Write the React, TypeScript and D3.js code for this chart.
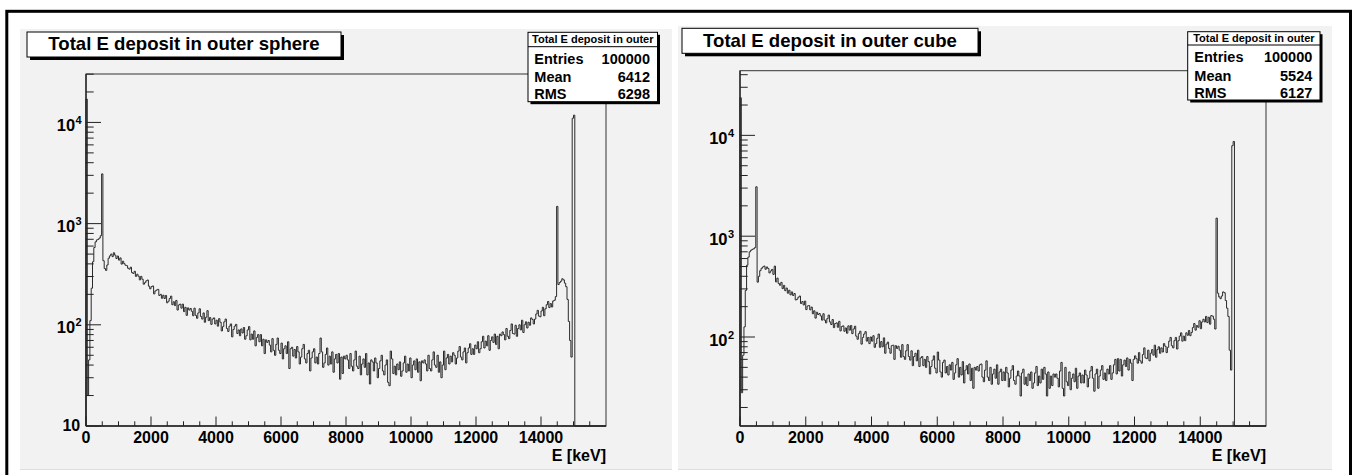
import React from 'react';
import * as d3 from 'd3';

// ---------------- DATA ----------------
const BIN_WIDTH_KEV = 40;
const X_DOMAIN: [number, number] = [0, 16000];
const X_MAJOR_TICKS = [0, 2000, 4000, 6000, 8000, 10000, 12000, 14000];
const X_MINOR_STEP = 500;
const X_AXIS_TITLE = 'E [keV]';
const STATS_HEADER = 'Total E deposit in outer';
const STAT_LABELS = ['Entries', 'Mean', 'RMS'];

const SPHERE_TITLE = 'Total E deposit in outer sphere';
const SPHERE_STATS = ['100000', '6412', '6298'];
const SPHERE_Y_RANGE: [number, number] = [10, 30100];

const CUBE_TITLE = 'Total E deposit in outer cube';
const CUBE_STATS = ['100000', '5524', '6127'];
const CUBE_Y_RANGE: [number, number] = [13.1, 43800];

// counts per 40 keV bin, 0 .. 16000 keV
const SPHERE_COUNTS = [
  17000, 20, 45, 110, 230, 420, 580, 660, 690, 700, 720, 760, 3100, 430, 360, 345, 390, 455, 480, 500,
  472, 515, 488, 452, 478, 436, 458, 398, 425, 402, 388, 384, 362, 355, 371, 328, 322, 338, 301, 316,
  302, 278, 301, 282, 252, 261, 272, 277, 241, 227, 238, 242, 202, 216, 221, 224, 195, 200, 183, 196,
  182, 195, 165, 171, 182, 192, 158, 169, 155, 174, 140, 157, 160, 146, 160, 135, 149, 124, 147, 140,
  145, 136, 123, 146, 124, 116, 131, 144, 121, 114, 131, 106, 119, 138, 110, 118, 101, 114, 117, 102,
  111, 97, 115, 106, 87, 96, 107, 114, 92, 86, 97, 102, 76, 90, 97, 101, 82, 89, 78, 91,
  83, 94, 72, 78, 89, 96, 71, 81, 72, 87, 62, 75, 80, 68, 80, 62, 72, 52, 71, 67,
  70, 63, 54, 73, 56, 50, 64, 74, 56, 52, 66, 46, 58, 62, 52, 68, 37, 58, 60, 49,
  57, 47, 61, 54, 41, 48, 58, 64, 46, 42, 52, 56, 35, 47, 54, 58, 42, 48, 41, 52,
  74, 54, 38, 42, 51, 59, 40, 49, 41, 54, 34, 46, 51, 42, 52, 29, 48, 33, 49, 46,
  50, 45, 37, 52, 39, 35, 45, 55, 39, 37, 49, 32, 41, 46, 38, 52, 32, 42, 26, 45,
  43, 35, 47, 42, 30, 37, 44, 50, 35, 32, 40, 45, 27, 25, 55, 46, 33, 39, 32, 41,
  36, 43, 31, 35, 42, 49, 34, 41, 35, 47, 30, 40, 44, 36, 46, 34, 43, 28, 44, 42,
  45, 41, 35, 50, 37, 35, 45, 54, 40, 38, 50, 34, 43, 30, 40, 55, 36, 47, 51, 41,
  49, 43, 53, 50, 41, 47, 55, 61, 48, 45, 54, 59, 42, 53, 59, 65, 51, 58, 51, 63,
  58, 68, 53, 58, 68, 77, 59, 69, 62, 78, 56, 70, 76, 67, 81, 64, 77, 58, 81, 78,
  85, 80, 71, 92, 77, 73, 88, 102, 82, 81, 99, 77, 92, 100, 89, 111, 84, 100, 107, 93,
  106, 99, 117, 113, 102, 114, 128, 139, 122, 120, 137, 149, 123, 144, 158, 170, 148, 162, 150, 172,
  175, 190, 1480, 250, 262, 270, 285, 278, 258, 238, 178, 108, 70, 48, 11000, 11800, 0, 0, 0, 0,
  0, 0, 0, 0, 0, 0, 0, 0, 0, 0, 0, 0, 0, 0, 0, 0, 0, 0, 0, 0,
];

const CUBE_COUNTS = [
  23600, 28, 66, 126, 290, 515, 620, 700, 725, 740, 750, 770, 3090, 350, 400, 455, 480, 495, 505, 470,
  495, 478, 432, 452, 468, 418, 505, 352, 384, 340, 326, 348, 302, 325, 288, 306, 272, 291, 262, 280,
  258, 270, 233, 237, 248, 255, 215, 225, 208, 227, 187, 203, 205, 186, 198, 170, 182, 154, 176, 167,
  171, 162, 147, 170, 147, 138, 152, 165, 141, 133, 149, 124, 136, 138, 125, 143, 115, 127, 129, 114,
  123, 109, 129, 117, 130, 108, 120, 128, 102, 95, 108, 114, 85, 99, 107, 113, 91, 99, 86, 100,
  91, 103, 79, 86, 97, 107, 79, 90, 80, 98, 69, 85, 89, 77, 69, 82, 83, 60, 82, 77,
  81, 74, 63, 84, 64, 60, 73, 84, 64, 59, 73, 52, 64, 69, 58, 74, 51, 62, 64, 52,
  60, 50, 64, 57, 43, 51, 59, 65, 49, 44, 71, 59, 45, 40, 56, 59, 44, 51, 42, 53,
  47, 56, 38, 44, 53, 61, 40, 50, 42, 57, 35, 47, 52, 43, 54, 37, 49, 31, 50, 47,
  51, 46, 53, 54, 40, 36, 47, 58, 40, 37, 50, 34, 43, 48, 39, 53, 34, 45, 48, 37,
  45, 37, 50, 44, 32, 39, 47, 52, 37, 34, 41, 46, 41, 26, 44, 48, 34, 40, 33, 43,
  37, 45, 31, 35, 44, 51, 33, 41, 35, 48, 38, 50, 43, 26, 45, 31, 41, 33, 43, 40,
  43, 39, 32, 46, 56, 31, 26, 50, 36, 33, 45, 30, 39, 43, 36, 49, 31, 41, 44, 35,
  42, 35, 47, 42, 32, 39, 46, 51, 39, 29, 43, 48, 31, 41, 47, 52, 38, 44, 37, 48,
  43, 52, 38, 44, 53, 60, 43, 61, 46, 60, 41, 53, 59, 51, 62, 47, 60, 55, 37, 60,
  65, 61, 55, 70, 58, 55, 67, 78, 62, 61, 74, 58, 69, 75, 66, 83, 63, 75, 80, 69,
  78, 71, 86, 81, 70, 79, 91, 99, 82, 78, 92, 99, 76, 92, 102, 110, 91, 102, 92, 110,
  104, 116, 103, 111, 124, 136, 117, 130, 125, 145, 121, 141, 150, 141, 160, 139, 157, 134, 163, 161,
  150, 120, 1510, 272, 250, 240, 255, 280, 275, 230, 193, 160, 74, 47, 7900, 8700, 0, 0, 0, 0,
  0, 0, 0, 0, 0, 0, 0, 0, 0, 0, 0, 0, 0, 0, 0, 0, 0, 0, 0, 0,
];

// ---------------- LAYOUT ----------------
const FONT = "'Liberation Sans', Arial, Helvetica, sans-serif";

const LEFT_LAYOUT = {
  pad: { x0: 20, x1: 672, y0: 29, y1: 470 },
  frame: { x0: 86, x1: 606, y0: 74, y1: 426 },
  title: { x0: 27, x1: 341, y0: 32, y1: 57, base: 50 },
  stats: { x0: 528, x1: 657.5, y0: 32.3, y1: 101.7, headBase: 43, line: 46.7, rows: [64.3, 82.3, 99.3], textL: 534.3, textR: 650 },
  yLabelRight: 81.7,
};

const RIGHT_LAYOUT = {
  pad: { x0: 678, x1: 1332, y0: 26, y1: 470 },
  frame: { x0: 740, x1: 1266, y0: 70.7, y1: 426 },
  title: { x0: 682, x1: 978, y0: 28.3, y1: 53.3, base: 47 },
  stats: { x0: 1187.7, x1: 1320, y0: 31.7, y1: 100, headBase: 42, line: 45, rows: [62.3, 80.7, 98.3], textL: 1194.3, textR: 1312.3 },
  yLabelRight: 734,
};

type Layout = typeof LEFT_LAYOUT;

function Panel({ title, counts, stats, yRange, L }: { title: string; counts: number[]; stats: string[]; yRange: [number, number]; L: Layout }) {
  const x = d3.scaleLinear().domain(X_DOMAIN).range([L.frame.x0, L.frame.x1]);
  const y = d3.scaleLog().domain(yRange).range([L.frame.y1, L.frame.y0]);
  const yMin = yRange[0];
  const yv = (v: number) => y(Math.max(v, yMin));

  const p = d3.path();
  p.moveTo(x(0), y(yMin));
  counts.forEach((c, i) => {
    p.lineTo(x(i * BIN_WIDTH_KEV), yv(c));
    p.lineTo(x((i + 1) * BIN_WIDTH_KEV), yv(c));
  });
  p.lineTo(x(counts.length * BIN_WIDTH_KEV), y(yMin));

  const yTicks: { v: number; major: boolean; exp: number }[] = [];
  for (let e = Math.floor(Math.log10(yRange[0])); e <= Math.ceil(Math.log10(yRange[1])); e++) {
    for (let m = 1; m <= 9; m++) {
      const v = m * Math.pow(10, e);
      if (v >= yRange[0] - 1e-9 && v <= yRange[1]) yTicks.push({ v, major: m === 1, exp: e });
    }
  }
  const xMinor = d3.range(0, X_DOMAIN[1] + 1, X_MINOR_STEP).filter((v) => !X_MAJOR_TICKS.includes(v) && v < X_DOMAIN[1]);

  const F = L.frame;
  const S = L.stats;
  const T = L.title;
  const axisColor = '#222';

  return (
    <g>
      <rect x={L.pad.x0} y={L.pad.y0} width={L.pad.x1 - L.pad.x0} height={L.pad.y1 - L.pad.y0} fill="#f2f2f2" />
      <line x1={L.pad.x0} x2={L.pad.x1} y1={L.pad.y1 - 0.5} y2={L.pad.y1 - 0.5} stroke="#dedede" strokeWidth={1} />

      <rect x={F.x0} y={F.y0} width={F.x1 - F.x0} height={F.y1 - F.y0} fill="none" stroke="#333" strokeWidth={1} />

      <path d={p.toString()} fill="none" stroke="#2a2a2a" strokeWidth={1} />

      <line x1={F.x0} x2={F.x0} y1={F.y0} y2={F.y1} stroke={axisColor} strokeWidth={1.3} />
      {yTicks.map((t, i) => (
        <line key={'yt' + i} x1={F.x0} x2={F.x0 + (t.major ? 15 : 7.7)} y1={y(t.v)} y2={y(t.v)} stroke={axisColor} strokeWidth={1} />
      ))}
      {yTicks.filter((t) => t.major).map((t, i) => {
        const ty = y(t.v);
        if (t.exp === 1) {
          return (
            <text key={'yl' + i} x={L.yLabelRight - 1.5} y={ty + 4.5} textAnchor="end" fontFamily={FONT} fontWeight="bold" fontSize={16} fill="#000">10</text>
          );
        }
        return (
          <g key={'yl' + i}>
            <text x={L.yLabelRight - 6.5} y={ty + 8.5} textAnchor="end" fontFamily={FONT} fontWeight="bold" fontSize={16.5} fill="#000">10</text>
            <text x={L.yLabelRight} y={ty + 1.5} textAnchor="end" fontFamily={FONT} fontWeight="bold" fontSize={11} fill="#000">{t.exp}</text>
          </g>
        );
      })}

      <line x1={F.x0} x2={F.x1} y1={F.y1} y2={F.y1} stroke={axisColor} strokeWidth={1.3} />
      {X_MAJOR_TICKS.map((v) => (
        <line key={'xM' + v} x1={x(v)} x2={x(v)} y1={F.y1} y2={F.y1 - 9.5} stroke={axisColor} strokeWidth={1} />
      ))}
      {xMinor.map((v) => (
        <line key={'xm' + v} x1={x(v)} x2={x(v)} y1={F.y1} y2={F.y1 - 4.7} stroke={axisColor} strokeWidth={1} />
      ))}
      {X_MAJOR_TICKS.map((v) => (
        <text key={'xl' + v} x={x(v)} y={F.y1 + 16.7} textAnchor="middle" fontFamily={FONT} fontWeight="bold" fontSize={16} fill="#000">{v}</text>
      ))}
      <text x={F.x1} y={460.5} textAnchor="end" fontFamily={FONT} fontWeight="bold" fontSize={16} fill="#000">{X_AXIS_TITLE}</text>

      <rect x={T.x0 + 3} y={T.y0 + 3} width={T.x1 - T.x0} height={T.y1 - T.y0} fill="#000" />
      <rect x={T.x0} y={T.y0} width={T.x1 - T.x0} height={T.y1 - T.y0} fill="#fff" stroke="#000" strokeWidth={1} />
      <text x={(T.x0 + T.x1) / 2} y={T.base} textAnchor="middle" fontFamily={FONT} fontWeight="bold" fontSize={18.6} fill="#000">{title}</text>

      <rect x={S.x0 + 2.5} y={S.y0 + 2.5} width={S.x1 - S.x0} height={S.y1 - S.y0} fill="#000" />
      <rect x={S.x0} y={S.y0} width={S.x1 - S.x0} height={S.y1 - S.y0} fill="#fff" stroke="#000" strokeWidth={1} />
      <text x={(S.x0 + S.x1) / 2} y={S.headBase} textAnchor="middle" fontFamily={FONT} fontWeight="bold" fontSize={11} fill="#000">{STATS_HEADER}</text>
      <line x1={S.x0} x2={S.x1} y1={S.line} y2={S.line} stroke="#000" strokeWidth={1} />
      {STAT_LABELS.map((lab, i) => (
        <g key={lab}>
          <text x={S.textL} y={S.rows[i]} fontFamily={FONT} fontWeight="bold" fontSize={14.5} fill="#000">{lab}</text>
          <text x={S.textR} y={S.rows[i]} textAnchor="end" fontFamily={FONT} fontWeight="bold" fontSize={14.5} fill="#000">{stats[i]}</text>
        </g>
      ))}
    </g>
  );
}

export default function App() {
  return (
    <svg width={1353} height={475} style={{ position: 'absolute', left: 0, top: 0, background: '#fff' }}>
      <rect x={0} y={0} width={1353} height={475} fill="#fff" />
      <Panel title={SPHERE_TITLE} counts={SPHERE_COUNTS} stats={SPHERE_STATS} yRange={SPHERE_Y_RANGE} L={LEFT_LAYOUT} />
      <Panel title={CUBE_TITLE} counts={CUBE_COUNTS} stats={CUBE_STATS} yRange={CUBE_Y_RANGE} L={RIGHT_LAYOUT} />
      <rect x={6.8} y={11.3} width={1343.7} height={500} fill="none" stroke="#000" strokeWidth={3} />
    </svg>
  );
}
